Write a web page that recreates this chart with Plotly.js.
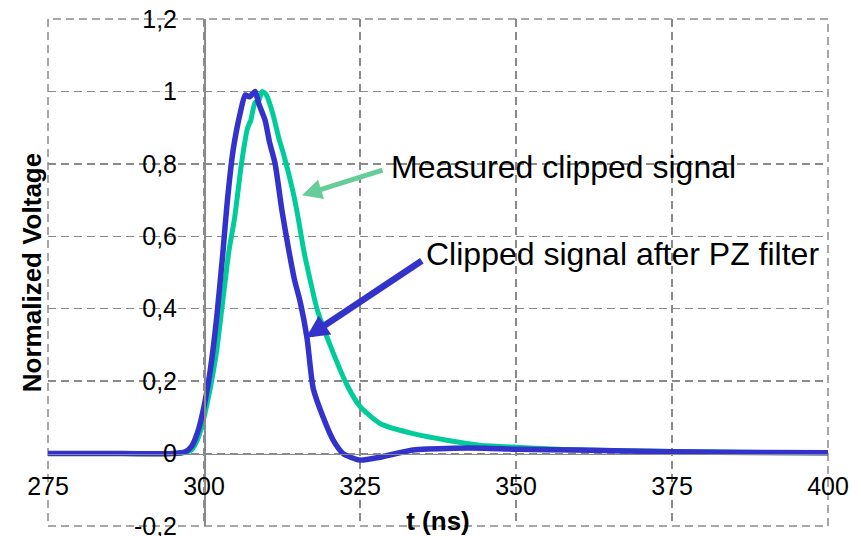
<!DOCTYPE html>
<html>
<head>
<meta charset="utf-8">
<script src="https://cdn.plot.ly/plotly-3.0.1.min.js"></script>
<style>html,body{margin:0;padding:0;background:#fff;}#chart{width:861px;height:536px;}</style>
</head>
<body>
<div id="chart"></div>
<script>
// Measured clipped signal (green)
var measuredT = [275, 287, 295, 297, 298, 299, 300, 301, 302, 303, 304, 304.9, 306, 307, 307.5, 308.2, 308.7, 309.3, 310, 311, 312, 312.7, 314.3, 315.1, 316, 317, 318.1, 320.2, 322.9, 325, 328.2, 333.5, 338.9, 344.2, 349.5, 355, 360, 370, 380, 390, 400];
var measuredV = [0, 0, 0, 0.003, 0.01, 0.04, 0.10, 0.18, 0.28, 0.42, 0.56, 0.65, 0.80, 0.90, 0.92, 0.97, 0.97, 1.0, 0.99, 0.94, 0.87, 0.83, 0.72, 0.65, 0.56, 0.48, 0.40, 0.30, 0.19, 0.13, 0.083, 0.055, 0.037, 0.023, 0.018, 0.013, 0.010, 0.007, 0.005, 0.003, 0.002];

// Clipped signal after PZ filter (blue)
var pzT = [275, 287, 295, 297, 298, 299, 300, 301, 302, 303, 303.7, 304.6, 305.3, 305.8, 306.6, 307.3, 308.2, 308.7, 309.8, 310.5, 311.4, 312.5, 313.5, 314.5, 315.4, 316.5, 317.5, 319.1, 320.7, 322.3, 325, 328.2, 333.5, 340, 345, 350, 360, 375, 390, 400];
var pzV = [0, 0, 0, 0.005, 0.02, 0.06, 0.13, 0.23, 0.37, 0.55, 0.69, 0.83, 0.90, 0.94, 0.99, 0.985, 1.0, 0.97, 0.92, 0.86, 0.80, 0.67, 0.57, 0.48, 0.42, 0.32, 0.18, 0.10, 0.037, 0.0, -0.018, -0.010, 0.010, 0.015, 0.015, 0.012, 0.010, 0.005, 0.003, 0.002];

var xTickVals = [275, 300, 325, 350, 375, 400];
var xTickText = ["275", "300", "325", "350", "375", "400"];
var yTickVals = [-0.2, 0, 0.2, 0.4, 0.6, 0.8, 1, 1.2];
var yTickText = ["-0,2", "0", "0,2", "0,4", "0,6", "0,8", "1", "1,2"];

var seriesNames = ["Measured clipped signal", "Clipped signal after PZ filter"];

var FONT = "Liberation Sans, Arial, sans-serif";
var GRID = "#8a8a8a";

var traces = [
  {x: measuredT, y: measuredV, type: "scatter", mode: "lines", name: seriesNames[0],
   line: {color: "#00cc99", width: 5, shape: "spline", smoothing: 0.6}},
  {x: pzT, y: pzV, type: "scatter", mode: "lines", name: seriesNames[1],
   line: {color: "#3333cc", width: 5.5, shape: "spline", smoothing: 0.6}}
];

var layout = {
  width: 861, height: 536,
  margin: {l: 48, r: 33, t: 19, b: 10},
  paper_bgcolor: "#ffffff", plot_bgcolor: "#ffffff",
  showlegend: false,
  font: {family: FONT, color: "#000"},
  xaxis: {
    range: [275, 400], tickvals: xTickVals, ticktext: xTickText,
    showgrid: true, gridcolor: GRID, gridwidth: 1.5, griddash: "8px,5px",
    zeroline: false, showline: true, linecolor: GRID, linewidth: 1.5,
    anchor: "free", position: 0.2 / 1.4, ticks: "",
    ticklabelstandoff: 10, ticklabeloverflow: "allow",
    tickfont: {family: FONT, size: 25, color: "#000"},
    title: {text: "t (ns)", font: {family: FONT, size: 26, color: "#000", weight: "bold"}, standoff: 12}
  },
  yaxis: {
    range: [-0.2, 1.2], tickvals: yTickVals, ticktext: yTickText,
    showgrid: true, gridcolor: GRID, gridwidth: 1.5, griddash: "8px,5px",
    zeroline: false, showline: true, linecolor: GRID, linewidth: 1.5,
    anchor: "free", position: 0.2, ticks: "",
    ticklabelstandoff: 22, ticklabeloverflow: "allow",
    tickfont: {family: FONT, size: 25, color: "#000"},
    title: {text: "Normalized Voltage", font: {family: FONT, size: 26, color: "#000", weight: "bold"}, standoff: 83}
  },
  shapes: [
    {type: "rect", xref: "x domain", yref: "y domain", x0: 0, x1: 1, y0: 0, y1: 1,
     line: {color: GRID, width: 1.5, dash: "8px,5px"}, layer: "below"}
  ],
  annotations: [
    {x: 315.7, y: 0.713, ax: 328.85, ay: 0.784, axref: "x", ayref: "y", xref: "x", yref: "y",
     text: "", showarrow: true, arrowhead: 2, arrowsize: 0.8, arrowwidth: 5, arrowcolor: "#66cc99", standoff: 0},
    {x: 316.35, y: 0.32, ax: 335.15, ay: 0.535, axref: "x", ayref: "y", xref: "x", yref: "y",
     text: "", showarrow: true, arrowhead: 2, arrowsize: 0.7, arrowwidth: 6.5, arrowcolor: "#3333cc", standoff: 0},
    {x: 329.7, y: 0.792, xref: "x", yref: "y", xanchor: "left", yanchor: "middle",
     text: seriesNames[0], showarrow: false, font: {family: FONT, size: 32, color: "#000"}},
    {x: 335.3, y: 0.552, xref: "x", yref: "y", xanchor: "left", yanchor: "middle",
     text: seriesNames[1], showarrow: false, font: {family: FONT, size: 32, color: "#000"}}
  ]
};

Plotly.newPlot("chart", traces, layout, {staticPlot: true, displayModeBar: false});
</script>
</body>
</html>
